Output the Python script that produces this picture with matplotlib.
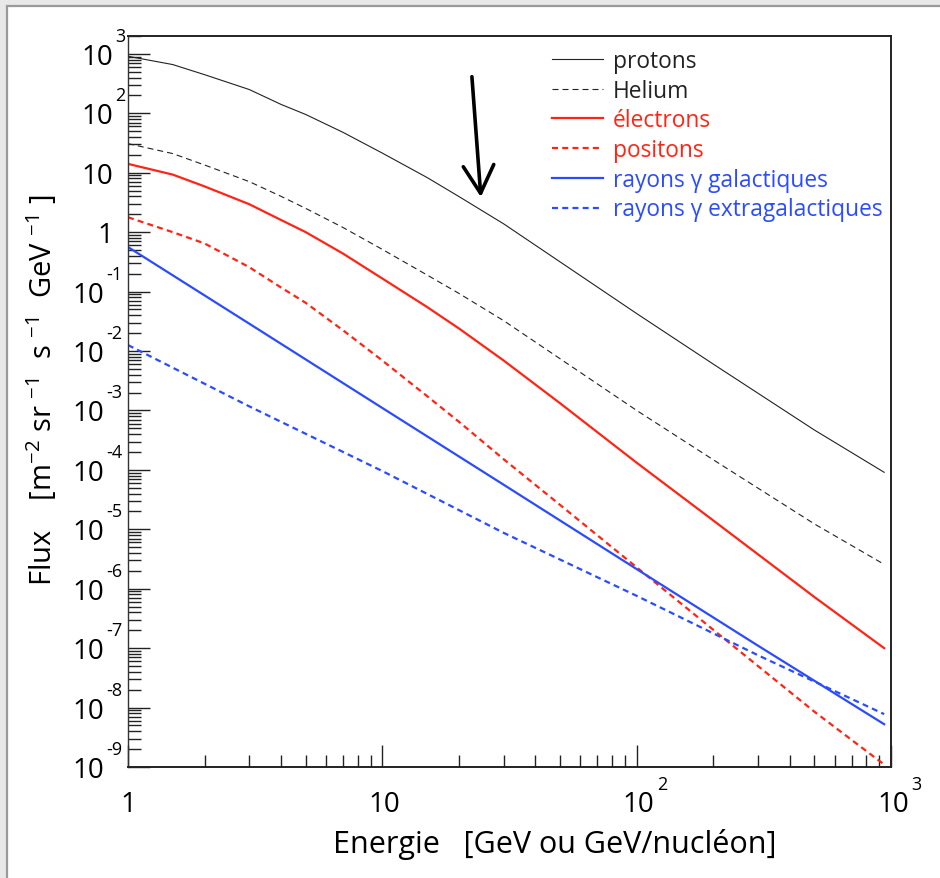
import matplotlib
matplotlib.use('Agg')
import matplotlib.pyplot as plt
from matplotlib.patches import Rectangle
from matplotlib.ticker import LogLocator, NullFormatter
from matplotlib.transforms import blended_transform_factory, offset_copy

plt.rcParams['font.family'] = ['Open Sans', 'DejaVu Sans']
plt.rcParams['mathtext.fontset'] = 'custom'
plt.rcParams['mathtext.rm'] = 'Open Sans'
plt.rcParams['mathtext.it'] = 'Open Sans:italic'

# DATA (flux in m-2 sr-1 s-1 GeV-1)

energy_cr = [1, 1.5, 2, 3, 4, 5, 7, 10, 15, 20, 30, 50, 100, 200, 500, 940]

flux_protons = [912, 661, 447, 251, 141, 95.5, 47.9, 21.4, 8.3, 3.98, 1.38,
                0.316, 4.27e-2, 6.03e-3, 4.68e-4, 9.1e-5]
flux_helium = [30.9, 21.0, 13.5, 7.08, 4.0, 2.51, 1.20, 0.513, 0.19,
               9.33e-2, 3.24e-2, 7.41e-3, 1.0e-3, 1.48e-4, 1.23e-5, 2.57e-6]
flux_electrons = [14.1, 9.3, 5.89, 2.95, 1.60, 1.0, 0.437, 0.166, 5.5e-2,
                  2.4e-2, 6.92e-3, 1.32e-3, 1.32e-4, 1.41e-5, 7.24e-7, 1.0e-7]
flux_positons = [1.78, 1.0, 0.646, 0.257, 0.117, 6.46e-2, 2.24e-2, 6.92e-3,
                 1.74e-3, 6.46e-4, 1.51e-4, 2.57e-5, 2.29e-6, 2.04e-7,
                 8.51e-9, 1.10e-9]

energy_gamma = [1, 3, 10, 30, 100, 300, 940]
flux_gamma_gal = [0.562, 2.88e-2, 1.10e-3, 5.62e-5, 2.14e-6, 1.10e-7, 5.25e-9]
flux_gamma_extra = [1.26e-2, 1.17e-3, 9.55e-5, 8.71e-6, 7.59e-7, 7.59e-8, 7.76e-9]

y_exponents = list(range(-9, 4))
x_exponents = [0, 1, 2, 3]

# arrow pointing at the proton spectrum
arrow_tail = (22.5, 413)
arrow_head = (24.4, 3.9)

RED = '#ff2414'
BLUE = '#2b4bff'

W, H = 940, 879

fig = plt.figure(figsize=(W / 100, H / 100), dpi=100)
fig.patch.set_facecolor('#e8e8e8')

fig.add_artist(Rectangle(
    (7 / W, -0.05), 1.1, 1.05 - 7 / H,
    transform=fig.transFigure,
    facecolor='white',
    edgecolor='#9a9a9a',
    lw=1.6,
    zorder=-10
))

ax = fig.add_axes([128 / W, 1 - 768 / H, (891 - 128) / W, (768 - 37) / H])

# CURVES

ax.plot(energy_cr, flux_protons, color='#222222', lw=0.8, label='protons')
ax.plot(energy_cr, flux_helium, color='#222222', lw=0.8,
        linestyle=(0, (5.4, 3.6)), label='Helium')
ax.plot(energy_cr, flux_electrons, color=RED, lw=1.6, label='électrons')
ax.plot(energy_cr, flux_positons, color=RED, lw=1.6,
        linestyle=(0, (2.7, 1.9)), label='positons')
ax.plot(energy_gamma, flux_gamma_gal, color=BLUE, lw=1.6,
        label='rayons γ galactiques')
ax.plot(energy_gamma, flux_gamma_extra, color=BLUE, lw=1.6,
        linestyle=(0, (2.7, 1.9)), label='rayons γ extragalactiques')

# AXES

ax.set_xscale('log')
ax.set_yscale('log')
ax.set_xlim(1, 1000)
ax.set_ylim(1e-9, 2e3)

ax.xaxis.set_major_locator(LogLocator(base=10, numticks=20))
ax.xaxis.set_minor_locator(LogLocator(base=10, subs=range(2, 10), numticks=20))
ax.yaxis.set_major_locator(LogLocator(base=10, numticks=20))
ax.yaxis.set_minor_locator(LogLocator(base=10, subs=range(2, 10), numticks=20))
ax.xaxis.set_minor_formatter(NullFormatter())
ax.yaxis.set_minor_formatter(NullFormatter())

ax.tick_params(which='both', direction='in', top=False, right=False,
               labelbottom=False, labelleft=False, color='#222222')
ax.tick_params(which='major', length=16, width=1.0)
ax.tick_params(which='minor', length=9, width=1.0)

for side in ['top', 'right', 'bottom']:
    ax.spines[side].set_linewidth(1.4)
    ax.spines[side].set_color('#222222')
ax.spines['left'].set_linewidth(1.0)
ax.spines['left'].set_color('#333333')

# TICK LABELS (ROOT style 10 + raised exponent)

ytrans = blended_transform_factory(fig.transFigure, ax.transData)
for n in y_exponents:
    if n == 0:
        ax.text(113 / W, 1, '1', transform=offset_copy(ytrans, fig=fig, y=-3, units='dots'),
                ha='right', va='center', fontsize=20)
    elif n == 1:
        ax.text(113 / W, 10, '10', transform=offset_copy(ytrans, fig=fig, y=-3, units='dots'),
                ha='right', va='center', fontsize=20)
    else:
        xr = 113 if n > 0 else 104
        ax.text(xr / W, 10.0 ** n, '10',
                transform=offset_copy(ytrans, fig=fig, y=-3, units='dots'),
                ha='right', va='center', fontsize=20)
        ax.text(xr / W, 10.0 ** n, str(n),
                transform=offset_copy(ytrans, fig=fig, x=2, y=18, units='dots'),
                ha='left', va='center', fontsize=13)

xtrans = blended_transform_factory(ax.transData, fig.transFigure)
for n in x_exponents:
    if n == 0:
        ax.text(1, 1 - 805 / H, '1', transform=xtrans,
                ha='center', va='center', fontsize=20)
    elif n == 1:
        ax.text(10, 1 - 805 / H, '10', transform=offset_copy(xtrans, fig=fig, x=2, units='dots'),
                ha='center', va='center', fontsize=20)
    else:
        ax.text(10.0 ** n, 1 - 805 / H, '10',
                transform=offset_copy(xtrans, fig=fig, x=2, units='dots'),
                ha='center', va='center', fontsize=20)
        ax.text(10.0 ** n, 1 - 805 / H, str(n),
                transform=offset_copy(xtrans, fig=fig, x=20, y=20, units='dots'),
                ha='left', va='center', fontsize=13)

fig.text(555 / W, 1 - 845 / H, 'Energie   [GeV ou GeV/nucléon]',
         ha='center', va='center', fontsize=22)

fig.text(42 / W, 1 - 390 / H,
         r'Flux    [m$^{-2}$ sr $^{-1}$  s $^{-1}$  GeV $^{-1}$ ]',
         rotation=90, ha='center', va='center', fontsize=21)

# LEGEND

leg = ax.legend(
    loc='upper left',
    bbox_to_anchor=(552 / W, 1 - 50 / H),
    bbox_transform=fig.transFigure,
    frameon=False,
    fontsize=16.4,
    handlelength=2.24,
    handletextpad=0.44,
    labelspacing=0.25,
    borderpad=0,
    borderaxespad=0
)
for text, line in zip(leg.get_texts(), leg.get_lines()):
    text.set_color(line.get_color())

# ARROW

ax.annotate(
    '',
    xy=arrow_head,
    xytext=arrow_tail,
    arrowprops=dict(
        arrowstyle='->, head_length=1.0, head_width=0.55',
        lw=2.6,
        color='black',
        mutation_scale=20,
        shrinkA=0,
        shrinkB=0
    )
)

plt.savefig('out.png', dpi=100)
